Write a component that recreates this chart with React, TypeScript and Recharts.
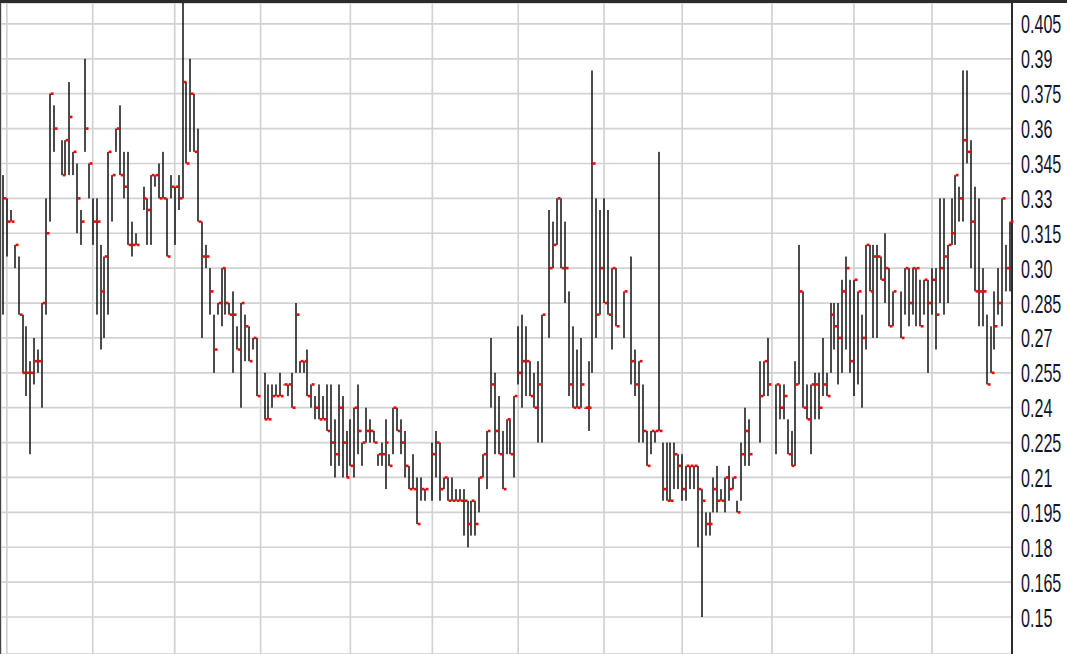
import { ComposedChart, Bar, Line, XAxis, YAxis, CartesianGrid } from 'recharts';

// one slot per trading day, null = no bar drawn in that slot
const highs = [
  0.34, 0.33, 0.325, 0.31, 0.305, 0.28, 0.275, 0.26, 0.27, 0.265, 0.285, 0.33, 0.375, 0.37, null,
  0.355, 0.355, 0.38, 0.35, 0.345, 0.325, 0.39, 0.345, 0.33, 0.33, 0.31, 0.305, 0.35, 0.34, 0.36, 0.37, 0.35, 0.35, 0.32, 0.315, null,
  0.335, 0.33, 0.34, 0.34, 0.345, 0.35, 0.33, 0.34, 0.335, 0.34, 0.42, 0.38, 0.39, 0.375, 0.36, 0.32, 0.31, 0.3, 0.28, 0.285,
  0.3, 0.3, 0.285, 0.29, 0.275, 0.285, 0.28, 0.275, 0.27, 0.27, null,
  0.255, 0.25, 0.25, 0.25, 0.255, 0.25, 0.25, 0.255, 0.285, 0.26, 0.26, 0.265, 0.25, 0.245, 0.25, 0.245, 0.25, 0.25, 0.235, 0.25,
  0.245, 0.23, 0.235, 0.24, 0.25, 0.225, 0.24, 0.235, 0.23, 0.22, 0.225, 0.235, 0.22, 0.24, 0.24, 0.235, 0.23, 0.215, 0.22, 0.21,
  0.21, 0.205, null,
  0.225, 0.23, 0.225, 0.21, 0.21, 0.21, 0.205, 0.205, 0.205, 0.2, 0.2, 0.2, 0.21, 0.22, 0.23, 0.27, 0.255, 0.245, 0.23, 0.235,
  0.235, 0.245, 0.275, 0.28, 0.275, 0.26, 0.255, 0.26, 0.28, null,
  0.325, 0.32, 0.33, 0.33, 0.32, 0.29, 0.275, 0.265, 0.27, 0.24, 0.26, 0.385, 0.33, 0.325, 0.33, 0.325, 0.3, 0.3, null, 0.29, null,
  0.305, 0.265, 0.26, 0.25, 0.23, 0.23, 0.23, 0.35, 0.225, 0.225, 0.225, 0.225, 0.22, 0.22, 0.215, 0.215, 0.215, 0.215, 0.205, 0.195,
  0.195, 0.21, 0.215, 0.205, 0.21, 0.215, 0.21, 0.2, 0.225, 0.24, 0.235, null, null,
  0.26, 0.26, 0.27, null,
  0.25, 0.25, 0.25, 0.235, 0.23, 0.26, 0.31, 0.29, 0.25, 0.25, 0.255, 0.255, 0.27, 0.255, 0.285, 0.285, 0.285, 0.295, 0.305, 0.295,
  0.295, 0.29, 0.28, 0.31, 0.31, 0.31, 0.31, 0.305, 0.315, 0.3, 0.29, null,
  0.29, 0.3, 0.3, 0.3, 0.3, 0.295, 0.295, 0.295, 0.3, 0.3, 0.33, 0.33, 0.31, 0.33, 0.34, 0.335, 0.385, 0.385, 0.355, 0.335,
  0.33, 0.3, 0.28, 0.275, 0.29, 0.3, 0.33, 0.31, 0.32,
];

const lows = [
  0.28, 0.305, 0.32, 0.3, 0.28, 0.255, 0.245, 0.22, 0.25, 0.255, 0.24, 0.28, 0.32, 0.35, null,
  0.34, 0.34, 0.34, 0.34, 0.315, 0.31, 0.35, 0.33, 0.31, 0.28, 0.265, 0.27, 0.28, 0.32, 0.35, 0.34, 0.33, 0.31, 0.305, 0.31, null,
  0.325, 0.31, 0.31, 0.335, 0.33, 0.33, 0.305, 0.33, 0.31, 0.325, 0.33, 0.345, 0.35, 0.35, 0.32, 0.27, 0.3, 0.28, 0.255, 0.28,
  0.275, 0.28, 0.28, 0.255, 0.265, 0.24, 0.26, 0.26, 0.265, 0.245, null,
  0.235, 0.235, 0.24, 0.245, 0.245, 0.25, 0.245, 0.24, 0.255, 0.255, 0.255, 0.245, 0.24, 0.235, 0.235, 0.235, 0.23, 0.215, 0.21, 0.215,
  0.21, 0.21, 0.215, 0.21, 0.22, 0.215, 0.225, 0.225, 0.225, 0.215, 0.215, 0.205, 0.215, 0.22, 0.23, 0.22, 0.21, 0.205, 0.205, 0.19,
  0.2, 0.2, null,
  0.2, 0.21, 0.2, 0.205, 0.2, 0.2, 0.2, 0.2, 0.185, 0.18, 0.185, 0.185, 0.195, 0.21, 0.205, 0.24, 0.22, 0.22, 0.205, 0.22,
  0.22, 0.21, 0.25, 0.24, 0.245, 0.245, 0.24, 0.225, 0.225, null,
  0.27, 0.3, 0.31, 0.3, 0.285, 0.245, 0.24, 0.24, 0.24, 0.24, 0.23, 0.255, 0.27, 0.28, 0.285, 0.28, 0.265, 0.275, null, 0.27, null,
  0.25, 0.245, 0.225, 0.225, 0.215, 0.22, 0.225, 0.23, 0.2, 0.2, 0.2, 0.205, 0.205, 0.2, 0.2, 0.205, 0.205, 0.18, 0.15, 0.185,
  0.185, 0.195, 0.195, 0.2, 0.195, 0.2, 0.205, 0.195, 0.2, 0.215, 0.215, null, null,
  0.225, 0.245, 0.245, null,
  0.22, 0.235, 0.235, 0.22, 0.215, 0.215, 0.25, 0.24, 0.235, 0.22, 0.235, 0.235, 0.245, 0.245, 0.255, 0.265, 0.25, 0.255, 0.265, 0.255,
  0.245, 0.25, 0.24, 0.265, 0.29, 0.27, 0.27, 0.295, 0.285, 0.275, 0.275, null,
  0.27, 0.28, 0.275, 0.28, 0.275, 0.275, 0.28, 0.255, 0.28, 0.265, 0.285, 0.28, 0.285, 0.31, 0.31, 0.32, 0.32, 0.345, 0.3, 0.29,
  0.275, 0.275, 0.25, 0.255, 0.265, 0.28, 0.275, 0.29, 0.29,
];

const closes = [
  0.33, 0.32, 0.32, 0.31, 0.28, 0.255, 0.255, 0.255, 0.26, 0.26, 0.285, 0.315, 0.375, 0.36, null,
  0.34, 0.355, 0.365, 0.35, 0.33, 0.32, 0.36, 0.345, 0.32, 0.32, 0.29, 0.305, 0.35, 0.34, 0.36, 0.34, 0.335, 0.31, 0.31, 0.31, null,
  0.33, 0.325, 0.34, 0.34, 0.33, 0.33, 0.305, 0.335, 0.335, 0.33, 0.38, 0.345, 0.375, 0.35, 0.32, 0.305, 0.305, 0.29, 0.265, 0.285,
  0.3, 0.285, 0.28, 0.28, 0.265, 0.285, 0.275, 0.26, 0.27, 0.245, null,
  0.235, 0.235, 0.245, 0.245, 0.245, 0.25, 0.25, 0.24, 0.28, 0.26, 0.26, 0.245, 0.25, 0.24, 0.235, 0.235, 0.23, 0.225, 0.22, 0.24,
  0.225, 0.21, 0.215, 0.24, 0.23, 0.225, 0.23, 0.23, 0.225, 0.22, 0.22, 0.225, 0.215, 0.24, 0.23, 0.225, 0.215, 0.205, 0.205, 0.19,
  0.205, 0.205, null,
  0.22, 0.225, 0.205, 0.21, 0.2, 0.2, 0.2, 0.2, 0.2, 0.19, 0.2, 0.19, 0.21, 0.22, 0.23, 0.25, 0.23, 0.22, 0.205, 0.235,
  0.22, 0.245, 0.255, 0.26, 0.26, 0.245, 0.24, 0.25, 0.28, null,
  0.3, 0.31, 0.33, 0.3, 0.3, 0.25, 0.24, 0.24, 0.25, 0.24, 0.24, 0.345, 0.28, 0.3, 0.285, 0.28, 0.3, 0.275, null, 0.29, null,
  0.26, 0.25, 0.26, 0.23, 0.215, 0.23, 0.23, 0.23, 0.205, 0.2, 0.2, 0.22, 0.215, 0.205, 0.215, 0.215, 0.215, 0.205, 0.2, 0.19,
  0.19, 0.205, 0.2, 0.2, 0.21, 0.205, 0.21, 0.195, 0.22, 0.23, 0.22, null, null,
  0.245, 0.26, 0.25, null,
  0.25, 0.24, 0.245, 0.22, 0.215, 0.25, 0.29, 0.24, 0.235, 0.25, 0.25, 0.24, 0.25, 0.245, 0.28, 0.275, 0.27, 0.29, 0.3, 0.26,
  0.295, 0.29, 0.27, 0.31, 0.29, 0.305, 0.305, 0.295, 0.3, 0.275, 0.29, null,
  0.27, 0.3, 0.285, 0.3, 0.3, 0.275, 0.295, 0.285, 0.295, 0.28, 0.3, 0.305, 0.31, 0.315, 0.34, 0.33, 0.355, 0.35, 0.32, 0.29,
  0.29, 0.29, 0.25, 0.255, 0.275, 0.285, 0.33, 0.3, 0.32,
];

// slots where a new month starts (vertical grid lines)
const monthStarts = [1, 23, 44, 66, 89, 110, 132, 154, 174, 197, 218, 238];

const priceTicks = [0.15, 0.165, 0.18, 0.195, 0.21, 0.225, 0.24, 0.255, 0.27, 0.285, 0.3, 0.315, 0.33, 0.345, 0.36, 0.375, 0.39, 0.405];
const priceLabels = ['0.15', '0.165', '0.18', '0.195', '0.21', '0.225', '0.24', '0.255', '0.27', '0.285', '0.30', '0.315', '0.33', '0.345', '0.36', '0.375', '0.39', '0.405'];

const rows = highs.map((h, i) => ({
  slot: i,
  range: h == null || lows[i] == null ? null : [lows[i], h],
  close: closes[i],
}));

const RangeStick = (props: any) => {
  const { x, y, width, height } = props;
  if (x == null || y == null) return <g />;
  const cx = Math.round(x + width / 2);
  return <rect x={cx - 0.7} y={y} width={1.4} height={Math.max(height, 1)} fill="#000" />;
};

const CloseTick = (props: any) => {
  const { cx, cy, index } = props;
  if (cx == null || cy == null || closes[index] == null) return <g key={`c-${index}`} />;
  return (
    <rect key={`c-${index}`} x={Math.round(cx) + 0.7} y={cy - 1.3} width={2.8} height={2.6} fill="#f00" />
  );
};

const PriceTick = (props: any) => {
  const { x, y, payload } = props;
  const idx = priceTicks.indexOf(payload.value);
  const label = idx >= 0 ? priceLabels[idx] : String(payload.value);
  return (
    <text
      transform={`translate(${x + 1},${y + 9.5}) scale(0.62,1)`}
      fontFamily="'Liberation Sans', Arial, sans-serif"
      fontSize={26}
      fill="#141428"
      textAnchor="start"
    >
      {label}
    </text>
  );
};

export default function App() {
  return (
    <div style={{ width: 1067, height: 654, position: 'relative', background: '#fff', overflow: 'hidden' }}>
      <style>{'body{margin:0}'}</style>
      <div style={{ position: 'absolute', left: 0, top: 0, width: 1067, height: 3, background: '#2b2b2b' }} />
      <div style={{ position: 'absolute', left: 0, top: 3 }}>
        <ComposedChart
          width={1067}
          height={651}
          data={rows}
          margin={{ top: 0, right: 0, bottom: 0, left: 1 }}
          barCategoryGap={0}
        >
          <CartesianGrid stroke="#d2d2d2" strokeWidth={1.7} />
          <XAxis dataKey="slot" type="category" ticks={monthStarts} hide />
          <YAxis
            orientation="right"
            width={55}
            domain={[0.1341, 0.414]}
            allowDataOverflow
            ticks={priceTicks}
            interval={0}
            tickLine={false}
            axisLine={{ stroke: '#000', strokeWidth: 1.6 }}
            tick={<PriceTick />}
          />
          <Bar dataKey="range" shape={<RangeStick />} isAnimationActive={false} />
          <Line
            dataKey="close"
            stroke="none"
            dot={CloseTick}
            activeDot={false}
            isAnimationActive={false}
          />
        </ComposedChart>
      </div>
      <div style={{ position: 'absolute', left: 0, top: 3, width: 1, height: 651, background: '#444' }} />
    </div>
  );
}
